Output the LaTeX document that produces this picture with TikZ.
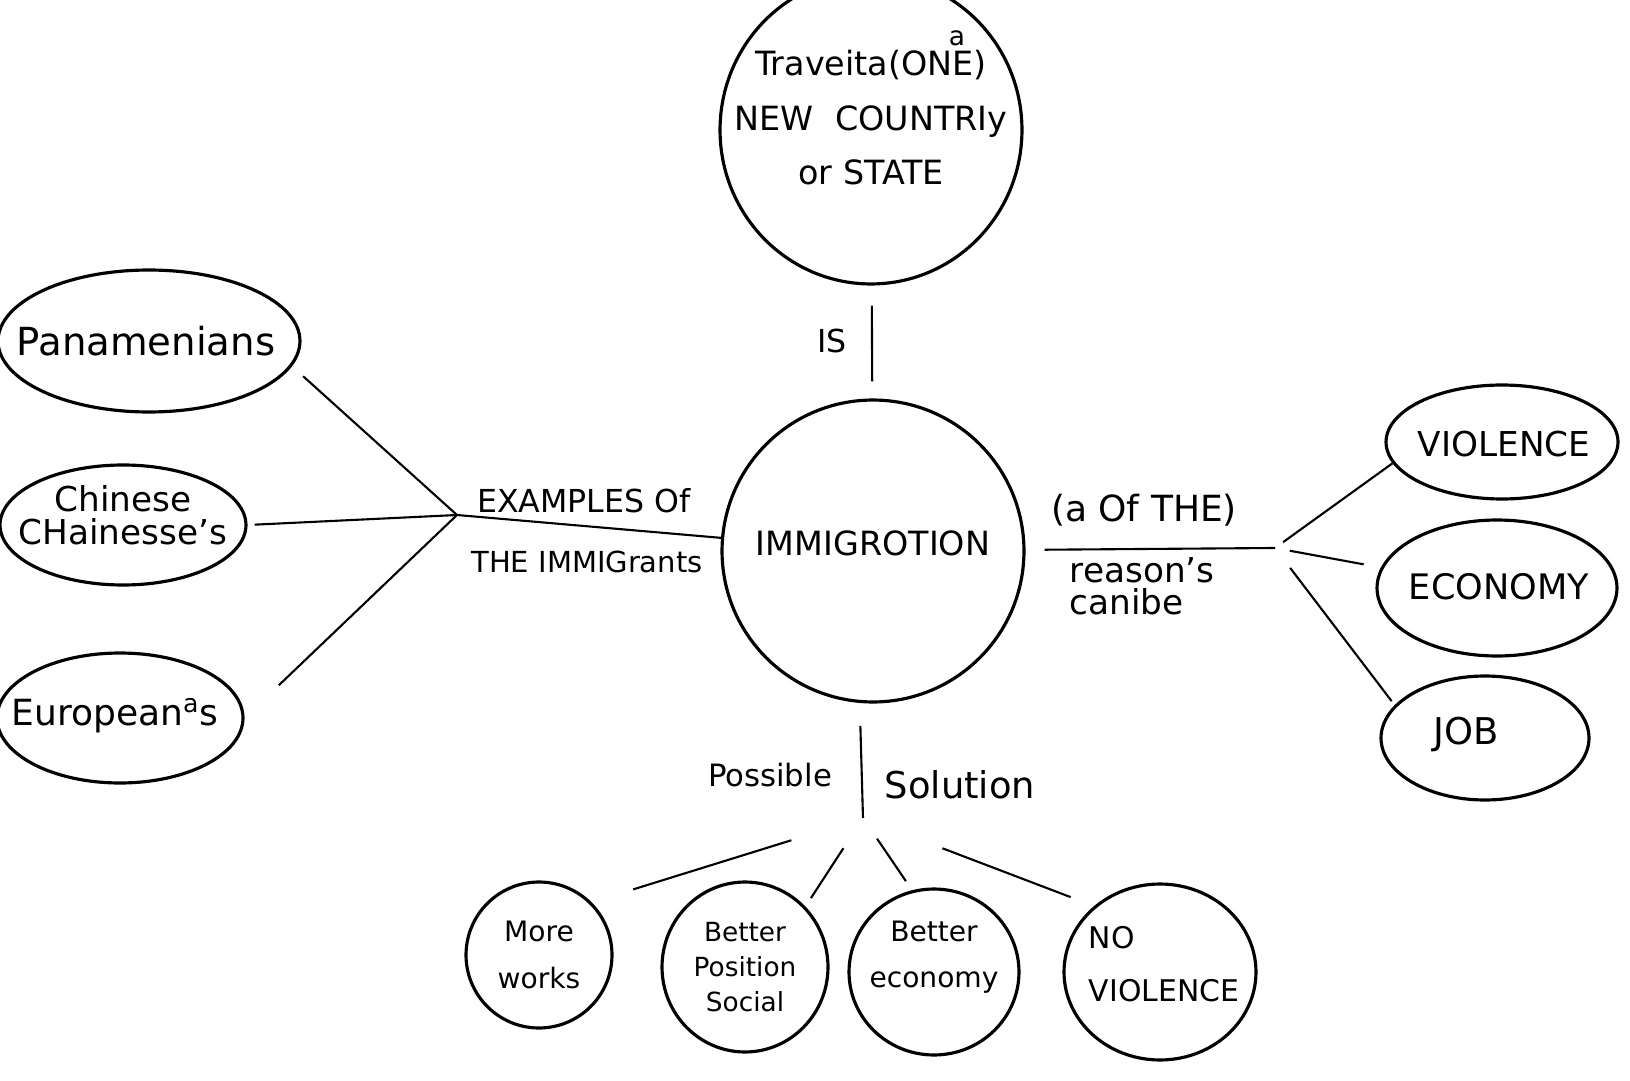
\documentclass[tikz,border=0pt]{standalone}
\usepackage{fontspec}
\setmainfont{DejaVu Sans}
\usetikzlibrary{shapes.geometric}
\usetikzlibrary{positioning}

\begin{document}
\begin{tikzpicture}[
	x=0.02cm, y=-0.02cm,
  line width=1.2pt,
  bubble/.style = {draw,ellipse,line width=1.8pt,inner sep=0pt},
  lbl/.style = {inner sep=1pt,align=center,font=\fontsize{18}{20}\selectfont}
  ]
	\useasboundingbox (0,0) rectangle (1630,1081);

	% centre and the definition above it
	\node[bubble,minimum width=6.04cm,minimum height=6.16cm] (travel) at (871,130) {};
	\node[lbl,font=\fontsize{19}{31}\selectfont] (traveltxt) at (871,118) {Traveita(ONE)\\NEW\ \ COUNTRIy\\or STATE};
	\node[lbl,font=\fontsize{15}{15}\selectfont] (travela) at (957,38) {a};
	\node[bubble,minimum width=6.04cm,minimum height=6.04cm] (imm) at (873,551) {};
	\node[lbl,font=\fontsize{19}{22}\selectfont] (immtxt) at (873,543) {IMMIGROTION};
	\node[lbl] (is) at (832,341) {IS};

	\coordinate (@ex) at (457,515);
	\coordinate (@re) at (1275,548);
	\coordinate (@so) at (863,818);

	% examples
	\node[bubble,minimum width=6.04cm,minimum height=2.84cm] (pan) at (149,341) {};
	\node[lbl,font=\fontsize{22}{24}\selectfont] (pantxt) at (146,341) {Panamenians};
	\node[bubble,minimum width=4.92cm,minimum height=2.4cm] (chi) at (123,525) {};
	\node[lbl,font=\fontsize{19.5}{19}\selectfont] (chitxt) at (123,515) {Chinese\\CHainesse's};
	\node[bubble,minimum width=4.92cm,minimum height=2.6cm] (eur) at (120,718) {};
	\node[lbl,font=\fontsize{20.5}{22}\selectfont] (eurtxt) at (115,716) {European\textsuperscript{a}s};
	\node[lbl] (extop) at (584,501) {EXAMPLES Of};
	\node[lbl,font=\fontsize{16.5}{18}\selectfont] (exbot) at (587,562) {THE IMMIGrants};

	% reasons
	\node[bubble,minimum width=4.64cm,minimum height=2.28cm] (vio) at (1502,442) {};
	\node[lbl,font=\fontsize{19.5}{22}\selectfont] (viotxt) at (1504,444) {VIOLENCE};
	\node[bubble,minimum width=4.8cm,minimum height=2.72cm] (eco) at (1497,588) {};
	\node[lbl,font=\fontsize{20}{22}\selectfont] (ecotxt) at (1499,587) {ECONOMY};
	\node[bubble,minimum width=4.16cm,minimum height=2.48cm] (job) at (1485,738) {};
	\node[lbl,font=\fontsize{21}{22}\selectfont] (jobtxt) at (1466,734) {JOB};
	\node[lbl,font=\fontsize{20.5}{22}\selectfont] (retop) at (1144,510) {(a Of THE)};
	\node[lbl,anchor=west,align=left,font=\fontsize{19.5}{18}\selectfont] (rebot) at (1067,586) {reason's\\canibe};

	% solutions
	\node[bubble,minimum width=2.92cm,minimum height=2.92cm] (more) at (539,955) {};
	\node[lbl,font=\fontsize{16}{27}\selectfont] (moretxt) at (539,955) {More\\works};
	\node[bubble,minimum width=3.32cm,minimum height=3.4cm] (pos) at (745,967) {};
	\node[lbl,font=\fontsize{15}{20}\selectfont] (postxt) at (745,967) {Better\\Position\\Social};
	\node[bubble,minimum width=3.4cm,minimum height=3.32cm] (beco) at (934,972) {};
	\node[lbl,font=\fontsize{16}{26}\selectfont] (becotxt) at (934,957) {Better\\economy};
	\node[bubble,minimum width=3.84cm,minimum height=3.52cm] (novio) at (1160,972) {};
	\node[lbl,align=left,font=\fontsize{17}{30}\selectfont] (noviotxt) at (1164,964) {NO\\VIOLENCE};
	\node[lbl,font=\fontsize{17.5}{20}\selectfont] (possible) at (770,775) {Possible};
	\node[lbl,font=\fontsize{21}{22}\selectfont] (solution) at (960,785) {Solution};

	\draw[shorten <=0.4cm,shorten >=0.34cm] (travel) -- (imm);
	\draw (@ex) -- (imm);
	\draw[shorten <=0.38cm] (imm) -- (@re);
	\draw[shorten <=0.46cm] (imm.265) -- (@so);

	\draw[shorten >=0.3cm] (@ex) -- (pan.-10);
	\draw[shorten >=0.14cm] (@ex) -- (chi.east);
	\draw[shorten >=0.95cm] (@ex) -- (eur.east);

	\draw[shorten <=0.2cm] (@re) -- (vio.191);
	\draw[shorten <=0.3cm,shorten >=0.35cm] (@re) -- (eco.170);
	\draw[shorten <=0.5cm,shorten >=0.1cm] (@re) -- (job.160);

	\draw[shorten <=1.5cm,shorten >=0.87cm] (@so) -- (more.45);
	\draw[shorten <=0.72cm,shorten >=0.2cm] (@so) -- (pos.45);
	\draw[shorten <=0.5cm,shorten >=0.22cm] (@so) -- (beco.105);
	\draw[shorten <=1.7cm,shorten >=0.5cm] (@so) -- (novio.135);

\end{tikzpicture}
\end{document}
